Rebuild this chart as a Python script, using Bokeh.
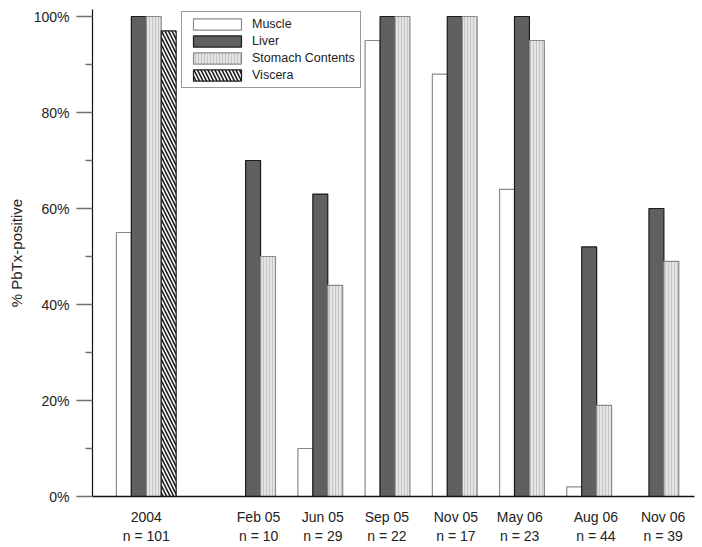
from bokeh.plotting import figure
from bokeh.models import (Range1d, FixedTicker, PrintfTickFormatter, Legend,
                          LegendItem, ColumnDataSource)
from bokeh.embed import file_html
from bokeh.resources import INLINE

# ---- data ----
groups = ["2004", "Feb 05", "Jun 05", "Sep 05", "Nov 05", "May 06", "Aug 06", "Nov 06"]
n_values = [101, 10, 29, 22, 17, 23, 44, 39]
muscle = [55, 0, 10, 95, 88, 64, 2, 0]
liver = [100, 70, 63, 100, 100, 100, 52, 60]
stomach = [100, 50, 44, 100, 100, 95, 19, 49]
viscera = [97, None, None, None, None, None, None, None]
series_names = ["Muscle", "Liver", "Stomach Contents", "Viscera"]
y_ticks = [0, 20, 40, 60, 80, 100]
y_minor = [10, 30, 50, 70, 90]

# ---- layout (group positions in bar-width units) ----
centers = [3.6] + [11.25 + 4.5 * k for k in range(7)]
label_shift = [0, -0.13, -0.33, -0.54, -0.42, -0.65, -0.05, -0.05]
bar_offsets = [-1.5, -0.5, 0.5, 1.5]

FONT = "Liberation Sans"

p = figure(width=702, height=547, output_backend="svg", toolbar_location=None,
           x_range=Range1d(0, 40.3), y_range=Range1d(0, 101.46),
           min_border_left=92, min_border_right=8, min_border_top=9,
           min_border_bottom=51)
p.outline_line_color = None
p.xgrid.visible = False
p.ygrid.visible = False
p.background_fill_color = "white"
p.border_fill_color = "white"

styles = [
    dict(fill_color="white", line_color="#8a8a8a", line_width=1.2),
    dict(fill_color="#606060", line_color="#1a1a1a", line_width=1.2),
    dict(fill_color="#e4e4e4", line_color="#8a8a8a", line_width=1.2,
         hatch_pattern="vertical_line", hatch_color="#c6c6c6",
         hatch_scale=3, hatch_weight=1),
    dict(fill_color="white", line_color="#1a1a1a", line_width=1.2,
         hatch_pattern="left_diagonal_line", hatch_color="#1a1a1a",
         hatch_scale=7, hatch_weight=1.6),
]

items = []
for si, (name, vals) in enumerate(zip(series_names, [muscle, liver, stomach, viscera])):
    xs, tops = [], []
    for gi, v in enumerate(vals):
        if v is None or v == 0:
            continue
        xs.append(centers[gi] + bar_offsets[si])
        tops.append(v)
    src = ColumnDataSource(dict(x=xs, top=tops))
    r = p.vbar(x="x", top="top", bottom=0, width=1.0, source=src, **styles[si])
    items.append(LegendItem(label=name, renderers=[r]))

legend = Legend(items=items, location=(89, 408), margin=0, padding=5,
                spacing=3, glyph_width=60, glyph_height=14, label_height=14,
                label_standoff=5, label_text_font=FONT,
                label_text_font_size="12.5px", label_text_color="#222222",
                border_line_color="#333333", border_line_width=1,
                background_fill_color="white", background_fill_alpha=1)
p.add_layout(legend, "center")

# x axis
tick_pos = [round(c + s, 2) for c, s in zip(centers, label_shift)]
p.xaxis.ticker = FixedTicker(ticks=tick_pos)
p.xaxis.major_label_overrides = {t: f"{g}\nn = {n}" for t, g, n in zip(tick_pos, groups, n_values)}
p.xaxis.major_tick_line_color = None
p.xaxis.minor_tick_line_color = None
p.xaxis.axis_line_color = "#111111"
p.xaxis.axis_line_width = 1.5
p.xaxis.major_label_text_font = FONT
p.xaxis.major_label_text_font_size = "14px"
p.xaxis.major_label_text_color = "#222222"
p.xaxis.major_label_standoff = 6

# y axis
p.yaxis.ticker = FixedTicker(ticks=y_ticks, minor_ticks=y_minor)
p.yaxis.formatter = PrintfTickFormatter(format="%d%%")
p.yaxis.axis_line_color = "#111111"
p.yaxis.axis_line_width = 1.2
p.yaxis.major_tick_in = 0
p.yaxis.major_tick_out = 16
p.yaxis.major_tick_line_color = "#707070"
p.yaxis.major_tick_line_width = 1.5
p.yaxis.minor_tick_in = 0
p.yaxis.minor_tick_out = 7
p.yaxis.minor_tick_line_color = "#707070"
p.yaxis.minor_tick_line_width = 1.5
p.yaxis.major_label_text_font = FONT
p.yaxis.major_label_text_font_size = "14px"
p.yaxis.major_label_text_color = "#222222"
p.yaxis.major_label_standoff = 7
p.yaxis.axis_label = "% PbTx-positive"
p.yaxis.axis_label_text_font = FONT
p.yaxis.axis_label_text_font_size = "15px"
p.yaxis.axis_label_text_font_style = "normal"
p.yaxis.axis_label_text_color = "#222222"
p.yaxis.axis_label_standoff = 6

open("out.html", "w").write(file_html(p, INLINE))
